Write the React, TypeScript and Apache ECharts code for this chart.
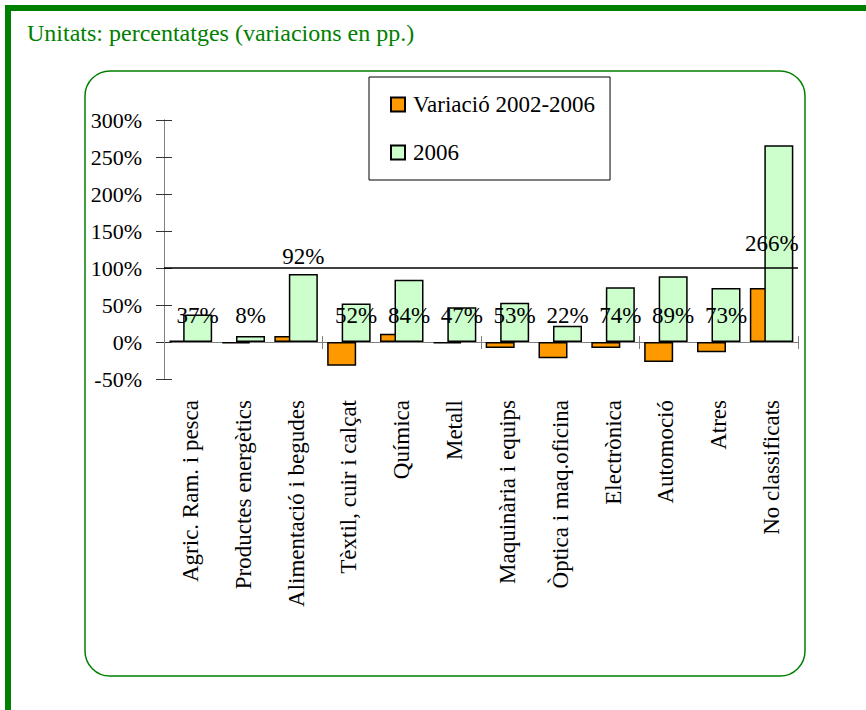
import React, { useEffect, useRef } from "react";
import * as echarts from "echarts";

const categories = [
  "Agric. Ram. i pesca",
  "Productes energètics",
  "Alimentació i begudes",
  "Tèxtil, cuir i calçat",
  "Química",
  "Metall",
  "Maquinària i equips",
  "Òptica i maq.oficina",
  "Electrònica",
  "Automoció",
  "Atres",
  "No classificats",
];
const variacio = [2, -2, 8, -32, 11, -2, -8, -22, -8, -27, -14, 73];
const valors2006 = [37, 8, 92, 52, 84, 47, 53, 22, 74, 89, 73, 266];
const seriesNames = ["Variació 2002-2006", "2006"];
const yMin = -50;
const yMax = 300;
const yStep = 50;
const refLine = 100;

const FONT = "'Liberation Serif', 'Times New Roman', serif";
const FS = 23;
const GREEN = "#008000";
const AXIS = "#808080";

function labelFor(i: number) {
  if (i === 2) return { position: "top", distance: 6 };
  if (i === 11) return { position: "insideBottom", distance: 87, offset: [-7, 0] };
  return { position: "insideBottom", distance: 15 };
}

export default function App() {
  const ref = useRef<HTMLDivElement>(null);
  useEffect(() => {
    if (!ref.current) return;
    const chart = echarts.init(ref.current, undefined, { renderer: "svg" });
    const grid = { left: 164, right: 68, top: 120, bottom: 331 };
    const baseX = { type: "category", data: categories, gridIndex: 0 };
    const option: any = {
      animation: false,
      backgroundColor: "#ffffff",
      textStyle: { fontFamily: FONT },
      grid,
      legend: {
        orient: "vertical",
        left: 369,
        top: 77,
        padding: [16, 15, 16, 21],
        itemGap: 25,
        itemWidth: 14,
        itemHeight: 14,
        icon: "rect",
        backgroundColor: "#ffffff",
        borderColor: "#000000",
        borderWidth: 1,
        borderRadius: 0,
        textStyle: { fontSize: FS, color: "#000", fontFamily: FONT, padding: [0, 0, 0, 3] },
        data: seriesNames,
      },
      xAxis: [
        {
          ...baseX,
          position: "bottom",
          axisLine: { show: false, onZero: false },
          axisTick: { show: false },
          axisLabel: {
            rotate: 90,
            interval: 0,
            margin: 21,
            fontSize: FS,
            color: "#000",
            fontFamily: FONT,
          },
        },
        {
          ...baseX,
          position: "bottom",
          axisLine: { show: true, onZero: true, lineStyle: { color: AXIS, width: 1 } },
          axisTick: { show: true, length: 7, lineStyle: { color: AXIS } },
          axisLabel: { show: false },
        },
        {
          ...baseX,
          position: "bottom",
          axisLine: { show: true, onZero: true, lineStyle: { color: AXIS, width: 1 } },
          axisTick: { show: true, inside: true, length: 6, lineStyle: { color: AXIS } },
          axisLabel: { show: false },
        },
      ],
      yAxis: [
        {
          type: "value",
          min: yMin,
          max: yMax,
          interval: yStep,
          axisLine: { show: true, lineStyle: { color: AXIS } },
          axisTick: { show: true, length: 8, lineStyle: { color: "#333" } },
          axisLabel: {
            formatter: "{value}%",
            margin: 22,
            fontSize: 22,
            color: "#000",
            fontFamily: FONT,
          },
          splitLine: { show: false },
        },
        {
          type: "value",
          min: yMin,
          max: yMax,
          interval: yStep,
          position: "left",
          axisLine: { show: true, lineStyle: { color: AXIS } },
          axisTick: { show: true, inside: true, length: 8, lineStyle: { color: "#333" } },
          axisLabel: { show: false },
          splitLine: { show: false },
        },
      ],
      series: [
        {
          name: seriesNames[0],
          type: "bar",
          xAxisIndex: 0,
          yAxisIndex: 0,
          data: variacio,
          barWidth: 29,
          barGap: "-50%",
          itemStyle: { color: "#FF9900", borderColor: "#000", borderWidth: 1.5 },
        },
        {
          name: seriesNames[1],
          type: "bar",
          xAxisIndex: 0,
          yAxisIndex: 0,
          barWidth: 29,
          barGap: "-50%",
          data: valors2006.map((v, i) => ({ value: v, label: labelFor(i) })),
          itemStyle: { color: "#CCFFCC", borderColor: "#000", borderWidth: 1.5 },
          label: {
            show: true,
            formatter: "{c}%",
            fontSize: FS,
            color: "#000",
            fontFamily: FONT,
          },
          markLine: {
            silent: true,
            symbol: ["none", "none"],
            label: { show: false },
            lineStyle: { color: "#000", width: 1.5, type: "solid" },
            data: [{ yAxis: refLine }],
          },
        },
      ],
      graphic: [
        { type: "rect", shape: { x: 5, y: 5, width: 861, height: 6 }, style: { fill: GREEN } },
        { type: "rect", shape: { x: 5, y: 5, width: 6, height: 705 }, style: { fill: GREEN } },
        {
          type: "text",
          x: 27,
          y: 21,
          style: {
            text: "Unitats: percentatges (variacions en pp.)",
            fill: GREEN,
            fontSize: 24,
            fontFamily: FONT,
            verticalAlign: "top",
          },
        },
        {
          type: "rect",
          shape: { x: 85, y: 71, width: 720, height: 605, r: 25 },
          style: { fill: "none", stroke: GREEN, lineWidth: 1.5 },
          z: -1,
        },
      ],
    };
    chart.setOption(option);
    return () => chart.dispose();
  }, []);
  return (
    <div
      ref={ref}
      style={{ position: "absolute", left: 0, top: 0, width: 866, height: 710 }}
    />
  );
}
